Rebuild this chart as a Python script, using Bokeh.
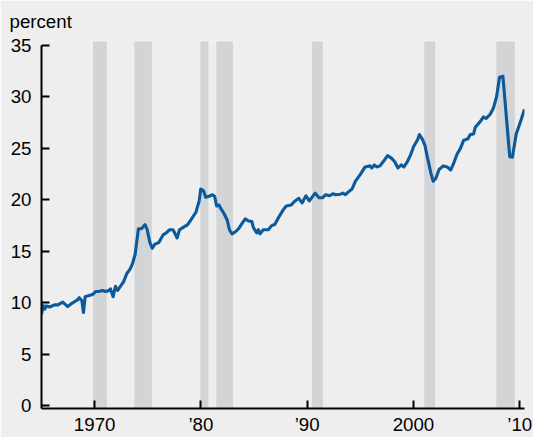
from bokeh.plotting import figure
from bokeh.models import Range1d, FixedTicker, Title
from bokeh.embed import file_html
from bokeh.resources import INLINE

# ---- data ----
years = [1965.00, 1965.15, 1965.31, 1965.46, 1965.77, 1966.23, 1966.54, 1967.00, 1967.47, 1967.78,
         1968.40, 1968.55, 1968.80, 1968.95, 1969.11, 1969.42, 1969.79, 1970.10, 1970.41, 1970.71,
         1971.03, 1971.34, 1971.49, 1971.74, 1971.96, 1972.17, 1972.42, 1972.73, 1973.03, 1973.35,
         1973.56, 1973.81, 1974.12, 1974.37, 1974.49, 1974.74, 1974.95, 1975.20, 1975.42, 1975.67,
         1976.04, 1976.44, 1976.74, 1977.06, 1977.37, 1977.52, 1977.76, 1977.99, 1978.45, 1978.76,
         1979.06, 1979.53, 1979.84, 1979.99, 1980.24, 1980.45, 1980.77, 1981.08, 1981.29, 1981.48,
         1981.70, 1981.85, 1982.16, 1982.47, 1982.68, 1982.93, 1983.24, 1983.55, 1983.86, 1984.17,
         1984.48, 1984.79, 1984.94, 1985.25, 1985.41, 1985.56, 1985.87, 1986.34, 1986.65, 1986.95,
         1987.26, 1987.73, 1988.03, 1988.50, 1988.80, 1989.21, 1989.52, 1989.89, 1990.20, 1990.75,
         1991.12, 1991.44, 1991.74, 1992.12, 1992.42, 1992.67, 1993.14, 1993.35, 1993.60, 1993.91,
         1994.22, 1994.53, 1994.99, 1995.45, 1995.92, 1996.08, 1996.32, 1996.54, 1996.85, 1997.15,
         1997.56, 1997.93, 1998.24, 1998.54, 1998.86, 1999.10, 1999.42, 1999.72, 2000.03, 2000.40,
         2000.56, 2000.86, 2001.08, 2001.33, 2001.64, 2001.86, 2002.11, 2002.41, 2002.81, 2003.18,
         2003.50, 2003.80, 2004.11, 2004.42, 2004.73, 2005.10, 2005.35, 2005.66, 2005.82, 2006.28,
         2006.59, 2006.84, 2007.21, 2007.52, 2007.82, 2008.10, 2008.42, 2009.06, 2009.31, 2009.67,
         2010.14, 2010.45]
percent = [8.9, 9.75, 9.4, 9.7, 9.6, 9.8, 9.8, 10.07, 9.63, 9.9,
           10.3, 10.5, 10.2, 9.06, 10.6, 10.7, 10.8, 11.1, 11.1, 11.2,
           11.1, 11.2, 11.35, 10.6, 11.6, 11.2, 11.6, 12.06, 12.85, 13.3,
           13.8, 14.7, 17.2, 17.2, 17.3, 17.6, 17.1, 15.85, 15.3, 15.7,
           15.85, 16.6, 16.8, 17.1, 17.1, 16.8, 16.3, 17.1, 17.4, 17.6,
           18.05, 18.8, 19.9, 21.05, 20.9, 20.25, 20.35, 20.5, 20.35, 19.4,
           19.5, 19.2, 18.7, 18.05, 17.1, 16.7, 16.9, 17.2, 17.7, 18.15,
           17.95, 17.9, 17.3, 16.8, 17.1, 16.7, 17.1, 17.1, 17.5, 17.6,
           18.2, 19.0, 19.4, 19.5, 19.85, 20.15, 19.7, 20.4, 19.9, 20.65,
           20.2, 20.2, 20.5, 20.4, 20.6, 20.5, 20.55, 20.65, 20.5, 20.8,
           21.05, 21.8, 22.45, 23.2, 23.3, 23.1, 23.4, 23.2, 23.3, 23.7,
           24.3, 24.05, 23.7, 23.1, 23.4, 23.2, 23.7, 24.35, 25.2, 25.85,
           26.35, 25.85, 25.3, 24.05, 22.6, 21.8, 22.1, 22.95, 23.3, 23.2,
           22.9, 23.6, 24.45, 25.0, 25.8, 25.9, 26.35, 26.4, 27.05, 27.6,
           28.05, 27.9, 28.3, 28.9, 30.0, 31.9, 32.0, 24.2, 24.15, 26.4,
           27.8, 28.8]

rec_start = [1969.85, 1973.75, 1979.95, 1981.45, 1990.46, 2001.02, 2007.80]
rec_end = [1971.15, 1975.39, 1980.71, 1983.02, 1991.48, 2002.04, 2009.54]

y_ticks = [0, 5, 10, 15, 20, 25, 30, 35]
x_ticks = [1970, 1980, 1990, 2000, 2010]
x_tick_labels = ["1970", "\u201980", "\u201990", "2000", "\u201910"]
unit_label = "percent"

BG = "#eeeeee"
FONT = "Liberation Sans"
FS = "18.7px"

p = figure(width=533, height=437, output_backend="svg", toolbar_location=None,
           x_range=Range1d(1965.0, 2010.45), y_range=Range1d(-0.26, 35.38),
           min_border_left=41, min_border_right=9, min_border_top=41, min_border_bottom=26)
p.background_fill_color = BG
p.border_fill_color = BG
p.outline_line_color = None
p.grid.visible = False

# recession bars
p.quad(left=rec_start, right=rec_end, bottom=-5, top=40,
       fill_color="#d3d4d6", line_color=None)

# series
p.line(years, percent, line_color="#0b5a9c", line_width=3.1, line_join="round")

# axes
xa = p.xaxis[0]
xa.ticker = FixedTicker(ticks=x_ticks)
xa.major_label_overrides = {t: l for t, l in zip(x_ticks, x_tick_labels)}
xa.minor_tick_line_color = None
xa.major_tick_in = 8
xa.major_tick_out = 0
xa.major_tick_line_width = 2
xa.axis_line_width = 2
xa.major_label_standoff = 5
xa.major_label_text_font = FONT
xa.major_label_text_font_size = FS
xa.major_label_text_color = "#000000"

ya = p.yaxis[0]
ya.ticker = FixedTicker(ticks=y_ticks)
ya.bounds = (-0.26, 35)
ya.minor_tick_line_color = None
ya.major_tick_in = 8
ya.major_tick_out = 0
ya.major_tick_line_width = 2
ya.axis_line_width = 2
ya.major_label_standoff = 10
ya.major_label_text_font = FONT
ya.major_label_text_font_size = FS
ya.major_label_text_color = "#000000"

# unit label at top-left
p.add_layout(Title(text=unit_label, align="left", vertical_align="top", offset=-32, standoff=16,
                   text_font=FONT, text_font_size=FS, text_font_style="normal",
                   text_color="#000000"), "above")

open("out.html", "w").write(file_html(p, INLINE))
